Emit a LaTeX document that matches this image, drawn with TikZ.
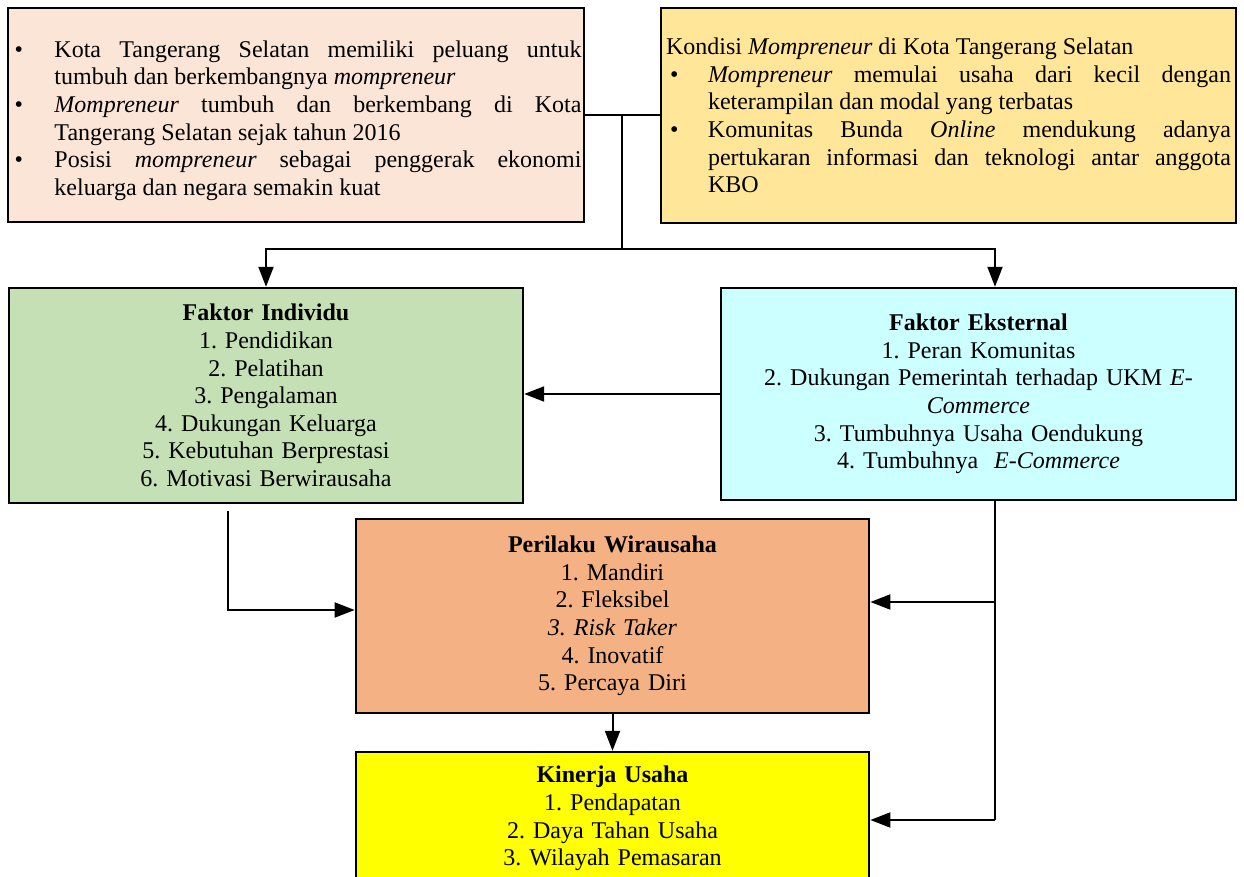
\documentclass[tikz,border=0pt]{standalone}
\usepackage{fontspec}
\setmainfont{Liberation Serif}
\usepackage{tikz}
\usetikzlibrary{arrows.meta}
\definecolor{peach}{HTML}{FBE5D6}
\definecolor{gold}{HTML}{FFE699}
\definecolor{sage}{HTML}{C5E0B4}
\definecolor{aqua}{HTML}{CCFFFF}
\definecolor{salmon}{HTML}{F4B183}
\definecolor{lemon}{HTML}{FFFF00}
\newcommand{\butir}[1]{\par\noindent\hangindent=#1\hangafter=1\hbox to #1{\hskip2pt\textbullet\hfil}\ignorespaces}
\frenchspacing

\begin{document}
\begin{tikzpicture}[x=0.5pt, y=-0.5pt,
		box/.style={draw, line width=1.2pt, inner ysep=2pt, font=\fontsize{12}{13.8}\selectfont\frenchspacing},
		arrow/.style={-{Triangle[length=10pt,width=7.5pt]}, line width=1pt},
		line/.style={line width=1pt}]
		
		\path[use as bounding box, clip] (0,0) rectangle (1244,877);
		
		\node [box, fill=peach, minimum width=288pt, minimum height=107pt, text width=285.5pt, inner xsep=1.25pt, align=justify] (kota) at (296,115)
		{\butir{22pt}Kota Tangerang Selatan memiliki peluang untuk\linebreak tumbuh dan berkembangnya \textit{mompreneur}
		 \butir{22pt}\textit{Mompreneur} tumbuh dan berkembang di Kota\linebreak Tangerang Selatan sejak tahun 2016
		 \butir{22pt}Posisi \textit{mompreneur} sebagai penggerak ekonomi\linebreak keluarga dan negara semakin kuat\par};
		\node [box, fill=gold, minimum width=287.5pt, minimum height=107.5pt, text width=282.5pt, inner xsep=2.5pt, align=justify] (kondisi) at (948.5,115.5)
		{\noindent Kondisi \textit{Mompreneur} di Kota Tangerang Selatan
		 \butir{21pt}\textit{Mompreneur} memulai usaha dari kecil dengan\linebreak keterampilan dan modal yang terbatas
		 \butir{21pt}Komunitas Bunda \textit{Online} mendukung adanya\linebreak pertukaran informasi dan teknologi antar anggota\linebreak KBO\par};
		
		\node [box, fill=sage, minimum width=257pt, minimum height=107.5pt, text width=250pt, align=center] (individu) at (266,395.5)
		{\textbf{Faktor Individu}\\ 1. Pendidikan\\ 2. Pelatihan\\ 3. Pengalaman\\ 4. Dukungan Keluarga\\ 5. Kebutuhan Berprestasi\\ 6. Motivasi Berwirausaha};
		\node [box, fill=aqua, minimum width=257.5pt, minimum height=106pt, text width=250pt, align=center] (eksternal) at (978.5,394)
		{\textbf{Faktor Eksternal}\\ 1. Peran Komunitas\\ 2. Dukungan Pemerintah terhadap UKM \textit{E-}\\ \textit{Commerce}\\ 3. Tumbuhnya Usaha Oendukung\\ 4. Tumbuhnya\ \ \textit{E-Commerce}};
		\node [box, fill=salmon, minimum width=256.5pt, minimum height=97pt, text width=250pt, align=center] (perilaku) at (612.5,616)
		{\textbf{Perilaku Wirausaha}\\ 1. Mandiri\\ 2. Fleksibel\\ \textit{3. Risk Taker}\\ 4. Inovatif\\ 5. Percaya Diri};
		\node [box, fill=lemon, minimum width=256.5pt, minimum height=66.5pt, text width=250pt, align=center] (kinerja) at (612.5,818.5)
		{\textbf{Kinerja Usaha}\\ 1. Pendapatan\\ 2. Daya Tahan Usaha\\ 3. Wilayah Pemasaran};
		
		\coordinate (gabung) at (622,115);
		\coordinate (bagi) at (622,249);
		\coordinate (ekstap) at (995,249);
		\coordinate (turun) at (228,511);
		\coordinate (cabang) at (995,602);
		\coordinate (sudut) at (995,820);
		
		\draw [line] (kota.east) -- (kota.east -| kondisi.west);
		\draw [line] (gabung) -- (bagi);
		\draw [arrow] (bagi) -| (individu.north);
		\draw [arrow] (bagi) -- (ekstap) -- (ekstap |- eksternal.north);
		\draw [arrow] (eksternal.west) -- (eksternal.west -| individu.east);
		
		\draw [arrow] (turun) |- ([yshift=3pt]perilaku.west);
		\draw [line] (ekstap |- eksternal.south) -- (sudut);
		\draw [arrow] (cabang) -- (cabang -| perilaku.east);
		\draw [arrow] (sudut) -- (sudut -| kinerja.east);
		\draw [arrow] (perilaku.south) -- (kinerja.north);
	\end{tikzpicture}
\end{document}
